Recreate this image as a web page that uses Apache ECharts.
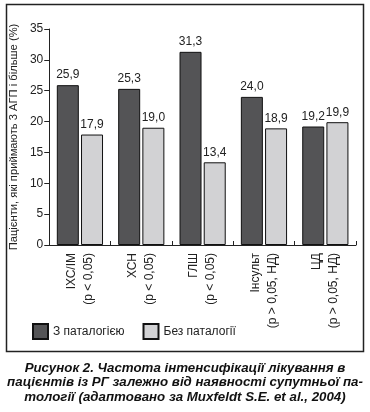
<!DOCTYPE html>
<html><head><meta charset="utf-8">
<script src="https://cdn.jsdelivr.net/npm/echarts@6/dist/echarts.min.js"></script>
<style>html,body{margin:0;padding:0;background:#fff}#c{width:370px;height:412px}</style>
</head><body><div id="c"></div>
<script>
const categories = ['ІХС/ІМ\n(р < 0,05)', 'ХСН\n(р < 0,05)', 'ГЛШ\n(р < 0,05)', 'Інсульт\n(р > 0,05, НД)', 'ЦД\n(р > 0,05, НД)'];
const withPathology = [25.9, 25.3, 31.3, 24.0, 19.2];
const withoutPathology = [17.9, 19.0, 13.4, 18.9, 19.9];
const yTicks = [0, 5, 10, 15, 20, 25, 30, 35];
const seriesNames = ['З паталогією', 'Без паталогії'];
const yName = 'Пацієнти, які приймають 3 АГП і більше (%)';
const caption = 'Рисунок 2. Частота інтенсифікації лікування в\nпацієнтів із РГ залежно від наявності супутньої па-\nтології (адаптовано за Muxfeldt S.E. et al., 2004)';

const FONT = '"Liberation Sans Narrow", "Liberation Sans", Arial, sans-serif';
const chart = echarts.init(document.getElementById('c'));
const fmt = p => p.value.toFixed(1).replace('.', ',');
chart.setOption({
  animation: false,
  textStyle: { fontFamily: FONT },
  grid: { left: 47, right: 14, top: 29, bottom: 167, containLabel: false },
  legend: {
    left: 32, top: 323, itemWidth: 15, itemHeight: 15, itemGap: 18, padding: 0,
    icon: 'rect',
    textStyle: { fontFamily: FONT, fontSize: 12, color: '#222' },
    data: seriesNames
  },
  xAxis: {
    type: 'category', data: categories,
    axisLine: { lineStyle: { color: '#222', width: 1 } },
    axisTick: { show: true, inside: true, length: 4, lineStyle: { color: '#222' } },
    axisLabel: { rotate: 90, fontSize: 12, color: '#222', lineHeight: 17, margin: 8, fontFamily: FONT }
  },
  yAxis: {
    type: 'value', min: 0, max: 35, interval: 5,
    name: yName, nameLocation: 'middle', nameRotate: 90, nameGap: 26,
    nameTextStyle: { fontSize: 11.2, color: '#222', fontFamily: FONT },
    axisLine: { show: true, lineStyle: { color: '#222', width: 1 } },
    axisTick: { show: true, length: 5, lineStyle: { color: '#222' } },
    splitLine: { show: false },
    axisLabel: { fontSize: 12, color: '#222', margin: 6, fontFamily: FONT,
      formatter: v => yTicks.includes(v) ? String(v) : '' }
  },
  series: [
    { name: seriesNames[0], type: 'bar', data: withPathology, barWidth: 22, barGap: '10%',
      itemStyle: { color: '#545456', borderColor: '#111', borderWidth: 1 },
      label: { show: true, position: 'top', distance: 4, fontSize: 12, color: '#222', formatter: fmt, fontFamily: FONT } },
    { name: seriesNames[1], type: 'bar', data: withoutPathology, barWidth: 22,
      itemStyle: { color: '#d2d2d4', borderColor: '#111', borderWidth: 1 },
      label: { show: true, position: 'top', distance: 4, fontSize: 12, color: '#222', formatter: fmt, fontFamily: FONT } }
  ],
  graphic: [
    { type: 'rect', shape: { x: 6.5, y: 4.5, width: 357, height: 347 },
      style: { fill: 'none', stroke: '#222', lineWidth: 1.5 }, silent: true },
    { type: 'text', x: 185, y: 361,
      style: { text: caption, textAlign: 'center', textVerticalAlign: 'top',
        font: 'italic bold 13.3px "Liberation Sans", Arial, sans-serif', lineHeight: 14.5, fill: '#111' } }
  ]
});
</script></body></html>
